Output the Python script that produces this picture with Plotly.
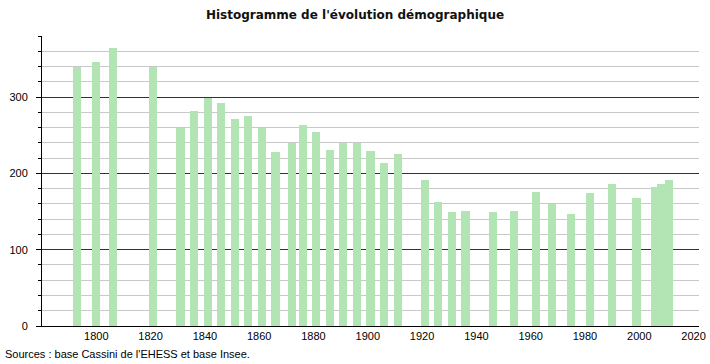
import plotly.graph_objects as go

years = [1793, 1800, 1806, 1821, 1831, 1836, 1841, 1846, 1851, 1856, 1861, 1866,
         1872, 1876, 1881, 1886, 1891, 1896, 1901, 1906, 1911, 1921, 1926, 1931,
         1936, 1946, 1954, 1962, 1968, 1975, 1982, 1990, 1999, 2006, 2008, 2011]
population = [340, 346, 364, 340, 260, 282, 299, 292, 271, 275, 260, 228,
              240, 263, 254, 230, 240, 240, 229, 214, 226, 191, 162, 149,
              151, 149, 151, 176, 160, 147, 174, 186, 168, 182, 186, 191]
x_ticks = [1800, 1820, 1840, 1860, 1880, 1900, 1920, 1940, 1960, 1980, 2000, 2020]
y_ticks = [0, 100, 200, 300]

title_text = "Histogramme de l'évolution démographique"
source_text = "Sources : base Cassini de l'EHESS et base Insee."

W, H = 710, 364
L, R, T, B = 42, 11, 36, 38

fig = go.Figure(go.Bar(
    x=years, y=population, width=3,
    marker=dict(color="#b3e4b3", line=dict(width=0)),
))

fig.update_layout(
    width=W, height=H,
    margin=dict(l=L, r=R, t=T, b=B, autoexpand=False),
    paper_bgcolor="white", plot_bgcolor="white",
    showlegend=False,
    font=dict(family="Liberation Sans, Arial, sans-serif", size=11, color="#000"),
    title=dict(text=title_text, x=0.5, xref="container", xanchor="center",
               y=1 - 15 / H, yref="container", yanchor="middle",
               font=dict(family="DejaVu Sans, Verdana, sans-serif", size=12,
                         color="#111", weight="bold")),
    xaxis=dict(range=[1780, 2022], tickmode="array", tickvals=x_ticks,
               automargin=False,
               showgrid=False, zeroline=False, showline=True, linecolor="#000",
               linewidth=1, ticks="", tickfont=dict(size=11)),
    yaxis=dict(range=[0, 380], tickmode="array", tickvals=y_ticks,
               automargin=False,
               showgrid=True, gridcolor="#333", gridwidth=1, zeroline=False,
               showline=True, linecolor="#000", linewidth=1,
               ticks="outside", ticklen=5, tickcolor="#000",
               ticklabelstandoff=6,
               minor=dict(dtick=20, tick0=0, ticks="outside", ticklen=3,
                          tickcolor="#000", showgrid=True, gridcolor="#c8c8c8",
                          gridwidth=1),
               tickfont=dict(size=11)),
    bargap=0,
)

fig.add_annotation(text=source_text, xref="paper", yref="paper",
                   x=(3 - L) / (W - L - R), y=-(354 - (H - B)) / (H - T - B),
                   xanchor="left", yanchor="middle", showarrow=False,
                   font=dict(size=11, color="#000"))

fig.write_html("out.html", config={"displayModeBar": False},
               post_script="document.body.style.margin='0';document.body.style.padding='0';")
